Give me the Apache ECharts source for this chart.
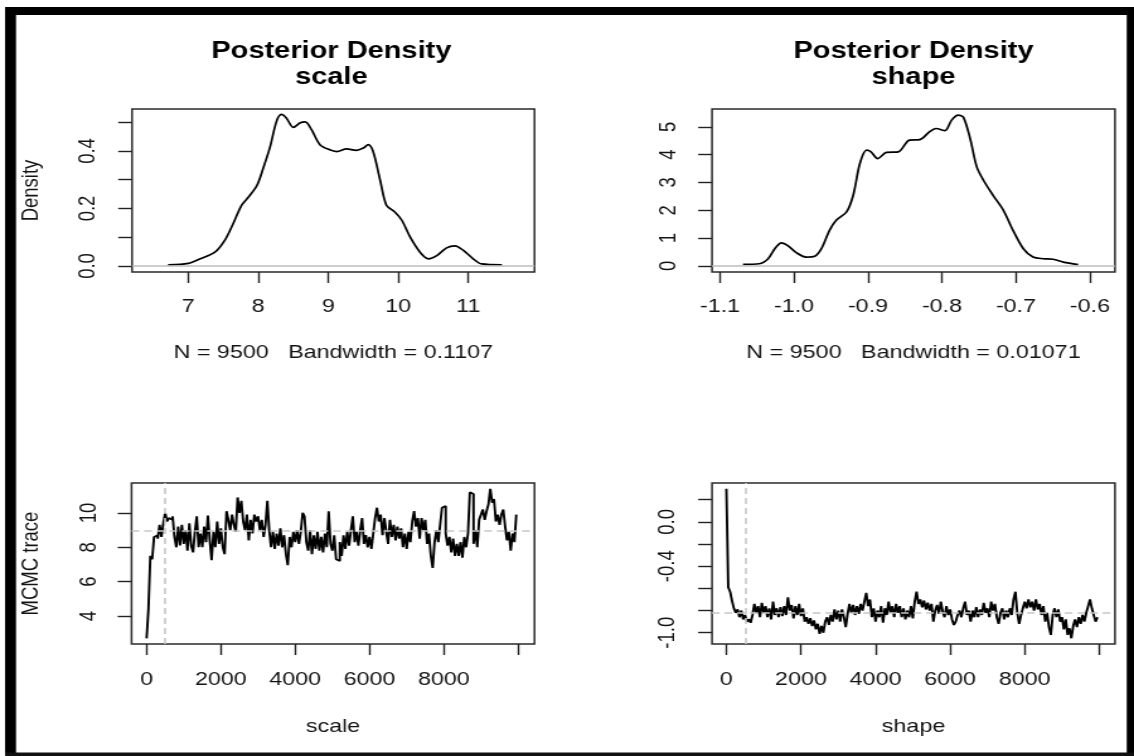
<!DOCTYPE html>
<html><head><meta charset="utf-8">
<script src="https://cdn.jsdelivr.net/npm/echarts@6/dist/echarts.min.js"></script>
<style>
html,body{margin:0;padding:0;background:#fff;overflow:hidden}
#c{width:900px;height:756px;transform:scaleX(1.26);transform-origin:0 0}
</style>
</head><body><div id="c"></div>
<script>
// ---------------- data ----------------
const scaleDensX = [6.71,7.0,7.17,7.38,7.52,7.64,7.76,7.86,7.98,8.07,8.17,8.26,8.33,8.40,8.50,8.60,8.67,8.76,8.88,9.02,9.12,9.26,9.40,9.50,9.57,9.64,9.74,9.83,9.95,10.05,10.17,10.31,10.43,10.55,10.69,10.81,10.93,11.07,11.19,11.48];
const scaleDensY = [0.004,0.009,0.025,0.048,0.089,0.147,0.211,0.24,0.28,0.34,0.416,0.503,0.527,0.515,0.482,0.498,0.501,0.474,0.422,0.404,0.398,0.407,0.402,0.41,0.422,0.398,0.299,0.211,0.188,0.159,0.10,0.048,0.025,0.036,0.063,0.07,0.054,0.025,0.007,0.004];
const shapeDensX = [-1.069,-1.047,-1.035,-1.026,-1.017,-1.008,-0.997,-0.984,-0.972,-0.963,-0.952,-0.943,-0.929,-0.920,-0.911,-0.902,-0.896,-0.887,-0.875,-0.859,-0.844,-0.830,-0.817,-0.808,-0.796,-0.787,-0.778,-0.771,-0.762,-0.753,-0.744,-0.731,-0.717,-0.704,-0.690,-0.677,-0.663,-0.650,-0.636,-0.616];
const shapeDensY = [0.06,0.08,0.26,0.62,0.83,0.72,0.48,0.32,0.35,0.62,1.28,1.64,1.94,2.54,3.68,4.16,4.10,3.86,4.08,4.10,4.52,4.54,4.82,4.94,4.86,5.24,5.42,5.34,4.58,3.56,3.08,2.54,2.00,1.28,0.62,0.32,0.26,0.24,0.14,0.05];

// MCMC trace, one value every traceStep iterations
const traceStep = 50;
const scaleTrace = [
 2.7,4.4,7.5,7.3,8.6,8.7,8.5,9.3,8.6,9.4,
 10.0,9.5,9.7,9.6,9.8,8.6,8.0,9.2,8.1,9.3,
 8.2,9.0,7.8,9.4,8.1,7.7,8.9,9.8,8.0,8.8,
 8.0,9.2,8.3,9.85,8.4,7.25,8.9,8.0,9.5,8.2,
 9.1,8.0,7.6,10.1,9.6,9.0,9.9,9.3,8.9,10.9,
 10.0,10.7,9.5,9.0,9.9,8.4,9.6,8.8,9.9,9.5,
 9.8,9.0,9.6,8.6,9.3,10.7,9.0,8.0,8.9,7.9,
 8.8,8.1,9.1,8.0,8.7,7.6,6.96,8.6,8.0,8.9,
 8.3,9.0,8.2,8.9,10.0,9.8,8.3,7.8,9.0,7.6,
 8.7,7.9,8.9,7.8,8.6,7.7,8.8,8.0,10.1,8.2,
 7.8,8.7,7.3,7.2,8.3,7.5,8.7,7.9,8.9,8.1,
 9.0,9.8,8.3,8.9,8.1,9.0,9.7,8.2,8.7,8.0,
 8.6,7.9,8.8,9.7,10.3,9.5,9.9,8.7,9.7,8.9,
 8.2,9.6,8.6,9.3,8.4,9.2,8.5,9.1,8.0,8.8,
 7.9,8.9,8.3,9.5,10.1,9.2,9.7,8.5,9.7,9.0,
 9.6,8.2,8.8,7.5,6.8,8.3,9.0,8.3,9.3,10.3,
 10.4,8.8,8.1,8.6,7.7,8.5,7.5,8.2,7.5,8.3,
 7.4,8.6,8.0,8.8,11.2,11.1,8.2,9.0,8.0,9.6,
 9.9,10.2,9.6,10.1,10.5,11.4,10.6,10.8,9.5,9.9,
 9.3,9.9,10.2,9.2,8.4,8.9,7.8,8.8,8.3,9.9
];
const shapeTrace = [
 0.30,-0.59,-0.63,-0.71,-0.78,-0.82,-0.79,-0.86,-0.80,-0.88,
 -0.84,-0.90,-0.88,-0.91,-0.84,-0.74,-0.82,-0.76,-0.86,-0.73,
 -0.82,-0.76,-0.86,-0.78,-0.88,-0.72,-0.84,-0.78,-0.86,-0.77,
 -0.85,-0.76,-0.84,-0.68,-0.80,-0.75,-0.87,-0.76,-0.84,-0.74,
 -0.85,-0.78,-0.90,-0.86,-0.92,-0.87,-0.94,-0.89,-0.97,-0.92,
 -1.01,-0.94,-1.00,-0.90,-0.86,-0.93,-0.84,-0.90,-0.79,-0.88,
 -0.80,-0.90,-0.79,-0.86,-0.95,-0.83,-0.74,-0.82,-0.75,-0.84,
 -0.76,-0.83,-0.74,-0.80,-0.72,-0.64,-0.76,-0.70,-0.86,-0.78,
 -0.90,-0.80,-0.86,-0.76,-0.91,-0.78,-0.84,-0.72,-0.82,-0.76,
 -0.86,-0.74,-0.82,-0.76,-0.86,-0.78,-0.88,-0.80,-0.86,-0.76,
 -0.87,-0.72,-0.63,-0.74,-0.70,-0.77,-0.71,-0.79,-0.73,-0.80,
 -0.74,-0.90,-0.80,-0.75,-0.83,-0.72,-0.81,-0.86,-0.76,-0.84,
 -0.79,-0.88,-0.93,-0.90,-0.84,-0.80,-0.86,-0.78,-0.72,-0.84,
 -0.80,-0.90,-0.80,-0.86,-0.77,-0.86,-0.79,-0.84,-0.73,-0.82,
 -0.78,-0.86,-0.72,-0.80,-0.74,-0.86,-0.92,-0.82,-0.78,-0.88,
 -0.80,-0.86,-0.78,-0.84,-0.70,-0.63,-0.82,-0.92,-0.84,-0.78,
 -0.72,-0.78,-0.70,-0.77,-0.72,-0.80,-0.70,-0.79,-0.74,-0.84,
 -0.76,-0.90,-0.82,-0.95,-1.02,-0.84,-0.78,-0.86,-0.79,-0.90,
 -0.86,-0.97,-0.88,-1.02,-0.96,-1.05,-0.94,-0.88,-0.95,-0.86,
 -0.92,-0.84,-0.90,-0.82,-0.76,-0.70,-0.78,-0.84,-0.90,-0.86
];
const burnIn = 500;
const scaleMean = 8.96;
const shapeMean = -0.824;

// ticks and labels
const scaleDensXTicks = [7,8,9,10,11];
const scaleDensYTicks = [0,0.1,0.2,0.3,0.4,0.5];
const scaleDensYLabels = [0,0.2,0.4];
const shapeDensXTicks = [-1.1,-1.0,-0.9,-0.8,-0.7,-0.6];
const shapeDensYTicks = [0,1,2,3,4,5];
const iterTicks = [0,2000,4000,6000,8000,10000];
const iterLabels = [0,2000,4000,6000,8000];
const scaleTraceYTicks = [4,6,8,10];
const shapeTraceYTicks = [-1.0,-0.8,-0.6,-0.4,-0.2,0.0,0.2];
const shapeTraceYLabels = [-1.0,-0.4,0.0];

// ---------------- chart ----------------
const FONT = '"Liberation Sans", Arial, Helvetica, sans-serif';
const FS = 18.5;
const TXT = '#141414';
const zip = (a, b) => a.map((v, i) => [v, b[i]]);
const traceData = arr => arr.map((v, i) => [i * traceStep, v]);

function axis(o) {
  const a = {
    type: 'value', gridIndex: o.grid, min: o.min, max: o.max,
    axisLine: {show: false, onZero: false}, splitLine: {show: false},
    axisTick: {show: true, length: 11, customValues: o.ticks, lineStyle: {color: '#222', width: 1.4}},
    axisLabel: {customValues: o.labels, margin: o.margin, fontSize: FS, fontFamily: FONT, color: TXT,
      rotate: o.rotate || 0, formatter: o.fmt || (v => String(v))},
  };
  if (o.name) {
    a.name = o.name; a.nameLocation = 'middle'; a.nameGap = o.nameGap;
    if (o.rotate) a.nameRotate = 90;
    a.nameTextStyle = {fontSize: FS, fontFamily: FONT, color: TXT};
  }
  return a;
}
const f1 = v => v.toFixed(1);

const titleStyle = {fontFamily: FONT, fontWeight: 'bold', fontSize: 23, lineHeight: 26, color: '#000'};
const zeroLine = {silent: true, symbol: ['none','none'], label: {show: false}, animation: false,
  lineStyle: {color: '#bdbdbd', type: 'solid', width: 1.5}, data: [{yAxis: 0}]};
const dashLines = (mean) => ({silent: true, symbol: ['none','none'], label: {show: false}, animation: false,
  lineStyle: {color: '#c6c6c6', type: [6,4], width: 1.6}, data: [{xAxis: burnIn}, {yAxis: mean}]});

const option = {
  backgroundColor: '#fff',
  animation: false,
  title: [
    {text: 'Posterior Density\nscale', left: 263, top: 39, textAlign: 'center', padding: 0, textStyle: titleStyle},
    {text: 'Posterior Density\nshape', left: 725, top: 39, textAlign: 'center', padding: 0, textStyle: titleStyle}
  ],
  grid: [
    {left: 104.8, top: 109, width: 319.4, height: 163, show: true, borderColor: '#2a2a2a', borderWidth: 1.5, backgroundColor: 'transparent'},
    {left: 565.1, top: 109, width: 319.8, height: 163, show: true, borderColor: '#2a2a2a', borderWidth: 1.5, backgroundColor: 'transparent'},
    {left: 104.4, top: 483, width: 319.8, height: 161, show: true, borderColor: '#2a2a2a', borderWidth: 1.5, backgroundColor: 'transparent'},
    {left: 565.1, top: 483, width: 319.8, height: 161, show: true, borderColor: '#2a2a2a', borderWidth: 1.5, backgroundColor: 'transparent'}
  ],
  xAxis: [
    axis({grid: 0, min: 6.196, max: 11.946, ticks: scaleDensXTicks, labels: scaleDensXTicks, margin: 25,
      name: 'N = 9500   Bandwidth = 0.1107', nameGap: 71}),
    axis({grid: 1, min: -1.1108, max: -0.5662, ticks: shapeDensXTicks, labels: shapeDensXTicks, margin: 25, fmt: f1,
      name: 'N = 9500   Bandwidth = 0.01071', nameGap: 71}),
    axis({grid: 2, min: -405, max: 10440, ticks: iterTicks, labels: iterLabels, margin: 26, name: 'scale', nameGap: 73}),
    axis({grid: 3, min: -385, max: 10420, ticks: iterTicks, labels: iterLabels, margin: 26, name: 'shape', nameGap: 73})
  ],
  yAxis: [
    axis({grid: 0, min: -0.021, max: 0.546, ticks: scaleDensYTicks, labels: scaleDensYLabels, margin: 25, rotate: 90, fmt: f1,
      name: 'Density', nameGap: 70}),
    axis({grid: 1, min: -0.217, max: 5.64, ticks: shapeDensYTicks, labels: shapeDensYTicks, margin: 25, rotate: 90}),
    axis({grid: 2, min: 2.37, max: 11.74, ticks: scaleTraceYTicks, labels: scaleTraceYTicks, margin: 24, rotate: 90,
      name: 'MCMC trace', nameGap: 70}),
    axis({grid: 3, min: -1.102, max: 0.351, ticks: shapeTraceYTicks, labels: shapeTraceYLabels, margin: 26, rotate: 90, fmt: f1})
  ],
  series: [
    {type: 'line', xAxisIndex: 0, yAxisIndex: 0, data: zip(scaleDensX, scaleDensY), smooth: 0.3, symbol: 'none',
      lineStyle: {color: '#000', width: 1.7}, markLine: zeroLine},
    {type: 'line', xAxisIndex: 1, yAxisIndex: 1, data: zip(shapeDensX, shapeDensY), smooth: 0.3, symbol: 'none',
      lineStyle: {color: '#000', width: 1.7}, markLine: zeroLine},
    {type: 'line', xAxisIndex: 2, yAxisIndex: 2, data: traceData(scaleTrace), step: 'end', symbol: 'none',
      lineStyle: {color: '#000', width: 1.9}, markLine: dashLines(scaleMean)},
    {type: 'line', xAxisIndex: 3, yAxisIndex: 3, data: traceData(shapeTrace), step: 'end', symbol: 'none',
      lineStyle: {color: '#000', width: 1.9}, markLine: dashLines(shapeMean)}
  ],
  graphic: [
    {type: 'rect', silent: true, z: 100, shape: {x: 4, y: 7, width: 8.7, height: 749}, style: {fill: '#000'}},
    {type: 'rect', silent: true, z: 100, shape: {x: 4, y: 7, width: 896, height: 8}, style: {fill: '#000'}},
    {type: 'rect', silent: true, z: 100, shape: {x: 894.2, y: 7, width: 5.8, height: 749}, style: {fill: '#000'}},
    {type: 'rect', silent: true, z: 100, shape: {x: 4, y: 752.5, width: 896, height: 3.5}, style: {fill: '#111'}}
  ]
};

const chart = echarts.init(document.getElementById('c'), null, {renderer: 'canvas'});
chart.setOption(option);
</script>
</body></html>
